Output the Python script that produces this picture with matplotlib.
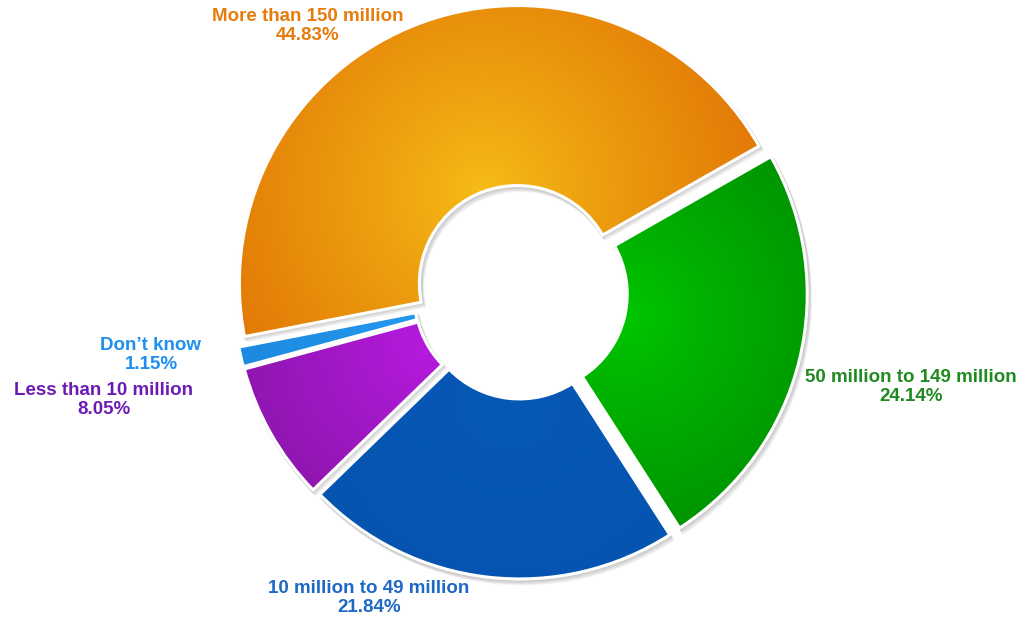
import numpy as np
import matplotlib
matplotlib.use("Agg")
import matplotlib.pyplot as plt
from matplotlib.patches import Wedge
from matplotlib.colors import to_rgb

# ---- data ----
categories = ["More than 150 million", "50 million to 149 million",
              "10 million to 49 million", "Less than 10 million", "Don\u2019t know"]
values = [44.83, 24.14, 21.84, 8.05, 1.15]

# ---- style ----
light_cols = ["#f6bd16", "#00c600", "#0858b6", "#b71ae0", "#2399ee"]
dark_cols = ["#e17506", "#008400", "#0553ae", "#7a1496", "#1a80d8"]
text_cols = ["#e67c0c", "#1f8a1f", "#1e68c6", "#6c1cb4", "#1e8ff0"]
# label centres in pixel coordinates (x, y from top)
label_pos = [(308, 26), (911, 387), (369, 598), (104, 400), (151, 355)]

W, H = 1023, 619
fig = plt.figure(figsize=(W / 100, H / 100), dpi=100)
ax = fig.add_axes([0, 0, 1, 1])

cx, cy = 520.5, H - 292
R, width = 278, 180
expl = 9

wedges, _ = ax.pie(values, startangle=191, counterclock=False, radius=R,
                   center=(cx, cy), explode=[expl] * len(values),
                   wedgeprops=dict(width=width, edgecolor="white", linewidth=2.2),
                   colors=light_cols, frame=False)

ax.set_xlim(0, W)
ax.set_ylim(0, H)
ax.set_aspect("equal")
ax.axis("off")

yy, xx = np.mgrid[0:H, 0:W] + 0.5
for i, w in enumerate(wedges):
    wc = w.center
    th1, th2 = w.theta1, w.theta2
    tm = np.deg2rad(0.5 * (th1 + th2))
    rin = R - width
    fx = wc[0] + rin * np.cos(tm)
    fy = wc[1] + rin * np.sin(tm)
    d = np.hypot(xx - fx, yy - fy)
    t = np.clip(d / 300.0, 0, 1) ** 0.9
    c0 = np.array(to_rgb(light_cols[i]))
    c1 = np.array(to_rgb(dark_cols[i]))
    img = c0[None, None, :] + (c1 - c0)[None, None, :] * t[..., None]
    im = ax.imshow(img, extent=(0, W, 0, H), origin="lower", zorder=2,
                   interpolation="bilinear")
    im.set_clip_path(w)
    w.set_facecolor("none")
    w.set_zorder(3)
    # soft shadow
    for k, (ox, oy, a) in enumerate([(1.0, -1.5, 0.10), (2.0, -3.0, 0.08), (3.0, -4.5, 0.06)]):
        sh = Wedge((wc[0] + ox, wc[1] + oy), R + 1, th1, th2, width=width + 2,
                   facecolor="#555555", edgecolor="#555555", lw=1.5,
                   alpha=a, zorder=1)
        ax.add_patch(sh)
    ax.set_xlim(0, W)
    ax.set_ylim(0, H)

for i, cat in enumerate(categories):
    x, y = label_pos[i]
    ax.text(x, H - y, f"{cat}\n{values[i]:.2f}%", ha="center", va="center",
            color=text_cols[i], fontsize=13.5, fontweight="bold",
            family=["Liberation Sans", "DejaVu Sans"], linespacing=1.2, zorder=5)

fig.savefig("out.png", dpi=100)
